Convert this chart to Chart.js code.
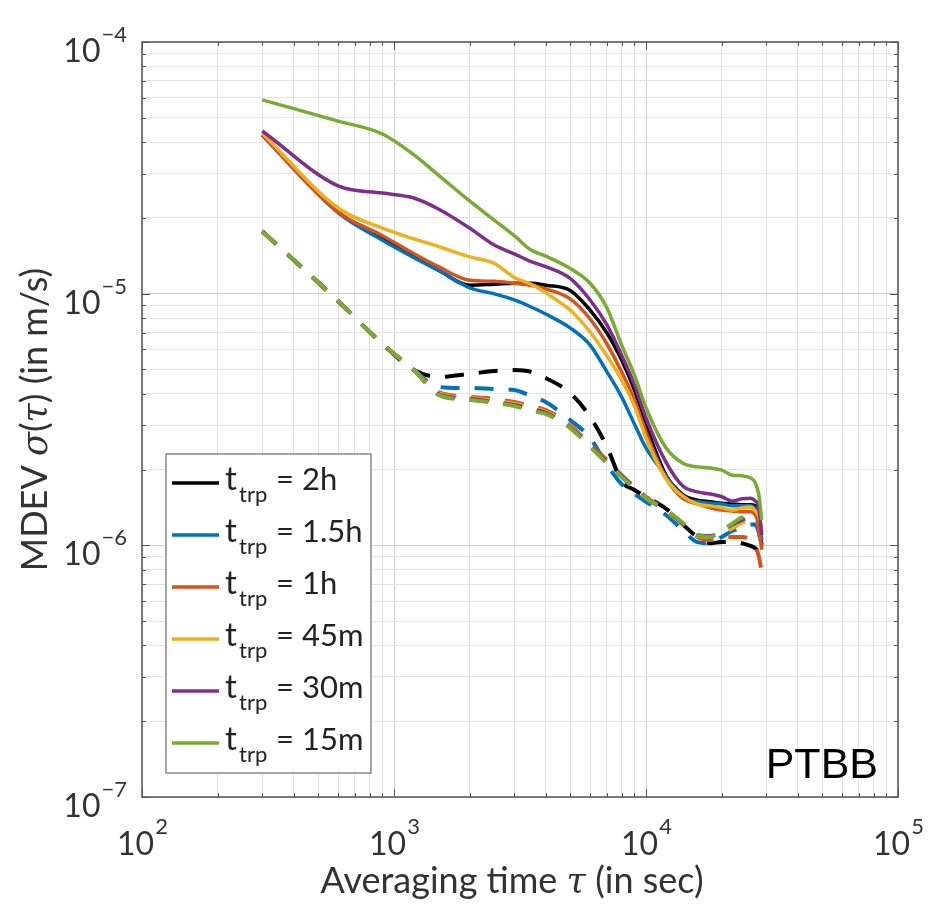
<!DOCTYPE html>
<html>
<head>
<meta charset="utf-8">
<script src="https://cdn.jsdelivr.net/npm/chart.js@4.4.1/dist/chart.umd.min.js"></script>
<style>
  html, body { margin:0; padding:0; background:#fff; }
  #wrap { width:941px; height:906px; }
</style>
</head>
<body>
<div id="wrap"><canvas id="mdev" width="941" height="906"></canvas></div>
<script>
// averaging time (s)
const tau = [300, 600, 900, 1200, 1500, 2000, 2500, 3000, 3500, 4000, 5000, 6000, 7000, 8000, 9000,
  10000, 12000, 14000, 16000, 18000, 20000, 22000, 24000, 26000, 27000, 28000, 28800];

// solid curves, MDEV (m/s)
const solid2h  = [4.27e-5, 2.11e-5, 1.66e-5, 1.40e-5, 1.24e-5, 1.08e-5, 1.09e-5, 1.10e-5, 1.10e-5, 1.08e-5, 1.03e-5, 8.61e-6, 6.98e-6, 5.45e-6, 4.14e-6, 3.01e-6, 1.90e-6, 1.59e-6, 1.51e-6, 1.49e-6, 1.47e-6, 1.46e-6, 1.45e-6, 1.45e-6, 1.44e-6, 1.32e-6, 1.00e-6];
const solid1h5 = [4.27e-5, 2.10e-5, 1.63e-5, 1.39e-5, 1.24e-5, 1.055e-5, 9.98e-6, 9.44e-6, 8.85e-6, 8.30e-6, 7.31e-6, 6.25e-6, 4.89e-6, 3.89e-6, 3.03e-6, 2.44e-6, 1.89e-6, 1.54e-6, 1.49e-6, 1.47e-6, 1.46e-6, 1.435e-6, 1.435e-6, 1.435e-6, 1.41e-6, 1.32e-6, 1.05e-6];
const solid1h  = [4.27e-5, 2.11e-5, 1.70e-5, 1.44e-5, 1.28e-5, 1.13e-5, 1.12e-5, 1.10e-5, 1.08e-5, 1.045e-5, 9.53e-6, 7.93e-6, 6.31e-6, 4.89e-6, 3.78e-6, 2.82e-6, 1.85e-6, 1.54e-6, 1.46e-6, 1.41e-6, 1.38e-6, 1.37e-6, 1.36e-6, 1.36e-6, 1.33e-6, 1.21e-6, 9.6e-7];
const solid45m = [4.35e-5, 2.19e-5, 1.82e-5, 1.65e-5, 1.54e-5, 1.40e-5, 1.32e-5, 1.16e-5, 1.09e-5, 1.007e-5, 8.61e-6, 7.04e-6, 5.65e-6, 4.54e-6, 3.58e-6, 2.67e-6, 1.84e-6, 1.57e-6, 1.46e-6, 1.435e-6, 1.41e-6, 1.38e-6, 1.41e-6, 1.42e-6, 1.38e-6, 1.31e-6, 1.17e-6];
const solid30m = [4.43e-5, 2.68e-5, 2.51e-5, 2.40e-5, 2.17e-5, 1.82e-5, 1.56e-5, 1.44e-5, 1.34e-5, 1.28e-5, 1.15e-5, 9.44e-6, 7.51e-6, 5.70e-6, 4.34e-6, 3.21e-6, 2.14e-6, 1.72e-6, 1.63e-6, 1.60e-6, 1.56e-6, 1.50e-6, 1.53e-6, 1.54e-6, 1.51e-6, 1.41e-6, 1.10e-6];
const solid15m = [5.89e-5, 4.85e-5, 4.31e-5, 3.56e-5, 2.96e-5, 2.33e-5, 1.96e-5, 1.70e-5, 1.49e-5, 1.41e-5, 1.26e-5, 1.10e-5, 8.77e-6, 6.25e-6, 4.75e-6, 3.52e-6, 2.44e-6, 2.12e-6, 2.05e-6, 2.03e-6, 1.99e-6, 1.90e-6, 1.89e-6, 1.85e-6, 1.79e-6, 1.60e-6, 1.26e-6];

// dashed curves
const dash2h  = [1.77e-5, 9.35e-6, 6.31e-6, 4.97e-6, 4.67e-6, 4.80e-6, 4.93e-6, 4.97e-6, 4.89e-6, 4.62e-6, 4.03e-6, 3.24e-6, 2.46e-6, 1.80e-6, 1.66e-6, 1.56e-6, 1.40e-6, 1.21e-6, 1.08e-6, 1.02e-6, 1.03e-6, 1.03e-6, 1.02e-6, 9.95e-7, 9.77e-7, 9.33e-7, 8.36e-7];
const dash1h5 = [1.77e-5, 9.35e-6, 6.31e-6, 4.97e-6, 4.26e-6, 4.22e-6, 4.18e-6, 4.14e-6, 3.92e-6, 3.71e-6, 3.15e-6, 2.67e-6, 2.09e-6, 1.75e-6, 1.60e-6, 1.49e-6, 1.32e-6, 1.15e-6, 1.03e-6, 1.02e-6, 1.08e-6, 1.14e-6, 1.17e-6, 1.21e-6, 1.21e-6, 1.13e-6, 9.77e-7];
const dash1h  = [1.77e-5, 9.35e-6, 6.31e-6, 4.97e-6, 4.07e-6, 3.89e-6, 3.82e-6, 3.71e-6, 3.58e-6, 3.45e-6, 3.01e-6, 2.51e-6, 2.18e-6, 1.90e-6, 1.71e-6, 1.56e-6, 1.38e-6, 1.21e-6, 1.08e-6, 1.05e-6, 1.07e-6, 1.08e-6, 1.08e-6, 1.05e-6, 1.00e-6, 9.08e-7, 7.83e-7];
const dash45m = [1.77e-5, 9.35e-6, 6.31e-6, 4.97e-6, 4.03e-6, 3.85e-6, 3.75e-6, 3.65e-6, 3.52e-6, 3.39e-6, 2.98e-6, 2.48e-6, 2.14e-6, 1.89e-6, 1.69e-6, 1.54e-6, 1.37e-6, 1.21e-6, 1.09e-6, 1.08e-6, 1.12e-6, 1.17e-6, 1.23e-6, 1.26e-6, 1.24e-6, 1.15e-6, 1.00e-6];
const dash30m = [1.77e-5, 9.35e-6, 6.31e-6, 4.97e-6, 3.99e-6, 3.82e-6, 3.71e-6, 3.61e-6, 3.48e-6, 3.36e-6, 2.95e-6, 2.48e-6, 2.14e-6, 1.89e-6, 1.69e-6, 1.54e-6, 1.38e-6, 1.22e-6, 1.10e-6, 1.09e-6, 1.14e-6, 1.21e-6, 1.26e-6, 1.30e-6, 1.26e-6, 1.15e-6, 9.77e-7];
const dash15m = [1.77e-5, 9.35e-6, 6.31e-6, 4.97e-6, 3.96e-6, 3.78e-6, 3.68e-6, 3.58e-6, 3.42e-6, 3.33e-6, 2.92e-6, 2.46e-6, 2.12e-6, 1.87e-6, 1.68e-6, 1.54e-6, 1.38e-6, 1.23e-6, 1.10e-6, 1.08e-6, 1.15e-6, 1.22e-6, 1.29e-6, 1.30e-6, 1.29e-6, 1.19e-6, 1.00e-6];

const seriesNames = ['2h', '1.5h', '1h', '45m', '30m', '15m'];
const seriesColors = ['#000000', '#0072BD', '#D95319', '#EDB120', '#7E2F8E', '#77AC30'];
const xTickExps = [2, 3, 4, 5];
const yTickExps = [-7, -6, -5, -4];

const solids = [solid2h, solid1h5, solid1h, solid45m, solid30m, solid15m];
const dashes = [dash2h, dash1h5, dash1h, dash45m, dash30m, dash15m];
const toPts = arr => tau.map((t, i) => ({ x: t, y: arr[i] }));

// all 1..9 x 10^n positions for grid lines
function logTicks(exps) {
  const out = [];
  for (let k = 0; k < exps.length; k++) {
    const base = Math.pow(10, exps[k]);
    if (k === exps.length - 1) { out.push(base); break; }
    for (let m = 1; m <= 9; m++) out.push(m * base);
  }
  return out;
}
const xGrid = logTicks(xTickExps);
const yGrid = logTicks(yTickExps);
const isMajor = v => v != null && Math.abs(Math.log10(v) - Math.round(Math.log10(v))) < 1e-9;

const datasets = [];
solids.forEach((arr, i) => datasets.push({
  label: 't_trp = ' + seriesNames[i], data: toPts(arr),
  borderColor: seriesColors[i], borderWidth: 3.5, order: 5 - i
}));
dashes.forEach((arr, i) => datasets.push({
  label: 'dashed ' + seriesNames[i], data: toPts(arr),
  borderColor: seriesColors[i], borderWidth: 4, borderDash: [19, 15], order: 11 - i
}));

const FONT = 'Lato, "Open Sans", sans-serif';

const decor = {
  id: 'decor',
  afterDatasetsDraw(chart) {
    const { ctx, chartArea: ca, scales: { x, y } } = chart;
    ctx.save();
    // box + inward ticks
    ctx.strokeStyle = '#555';
    ctx.lineWidth = 1.5;
    ctx.strokeRect(ca.left, ca.top, ca.right - ca.left, ca.bottom - ca.top);
    ctx.lineWidth = 1;
    xGrid.forEach(v => {
      const px = Math.round(x.getPixelForValue(v)) + 0.5, len = isMajor(v) ? 8 : 4;
      ctx.beginPath();
      ctx.moveTo(px, ca.bottom); ctx.lineTo(px, ca.bottom - len);
      ctx.moveTo(px, ca.top); ctx.lineTo(px, ca.top + len);
      ctx.stroke();
    });
    yGrid.forEach(v => {
      const py = Math.round(y.getPixelForValue(v)) + 0.5, len = isMajor(v) ? 8 : 4;
      ctx.beginPath();
      ctx.moveTo(ca.left, py); ctx.lineTo(ca.left + len, py);
      ctx.moveTo(ca.right, py); ctx.lineTo(ca.right - len, py);
      ctx.stroke();
    });

    // tick labels 10^n
    ctx.fillStyle = '#333';
    ctx.textBaseline = 'alphabetic';
    ctx.textAlign = 'left';
    const baseFont = '32px ' + FONT, expFont = '22px ' + FONT;
    xTickExps.forEach(e => {
      const px = x.getPixelForValue(Math.pow(10, e));
      const ex = String(e);
      ctx.font = baseFont; const wb = ctx.measureText('10').width;
      ctx.font = expFont; const we = ctx.measureText(ex).width;
      const sx = px - (wb + we) / 2;
      ctx.font = baseFont; ctx.fillText('10', sx, ca.bottom + 58);
      ctx.font = expFont; ctx.fillText(ex, sx + wb + 1, ca.bottom + 37);
    });
    yTickExps.forEach(e => {
      const py = y.getPixelForValue(Math.pow(10, e));
      const ex = '\u2212' + String(-e);
      ctx.font = baseFont; const wb = ctx.measureText('10').width;
      ctx.font = expFont; const we = ctx.measureText(ex).width;
      const sx = ca.left - 16 - (wb + we);
      ctx.font = baseFont; ctx.fillText('10', sx, py + 20);
      ctx.font = expFont; ctx.fillText(ex, sx + wb + 1, py);
    });

    // axis titles
    const titleFont = '36px ' + FONT, titleIt = 'italic 35px "DejaVu Serif", serif';
    const drawParts = (parts, cx, cy) => {
      let w = 0;
      parts.forEach(p => { ctx.font = p[1]; w += ctx.measureText(p[0]).width; });
      let sx = cx - w / 2;
      parts.forEach(p => { ctx.font = p[1]; ctx.fillText(p[0], sx, cy); sx += ctx.measureText(p[0]).width; });
    };
    drawParts([['Averaging time ', titleFont], ['\u03C4', titleIt], [' (in sec)', titleFont]],
      (ca.left + ca.right) / 2 - 8, ca.bottom + 96);
    ctx.save();
    ctx.translate(47, (ca.top + ca.bottom) / 2);
    ctx.rotate(-Math.PI / 2);
    drawParts([['MDEV ', titleFont], ['\u03C3', titleIt], ['(', titleFont], ['\u03C4', titleIt], [') (in m/s)', titleFont]], 0, 0);
    ctx.restore();

    // legend
    const lx = ca.left + 24, ly = ca.top + 412, lw = 205, lh = 319;
    ctx.fillStyle = '#fff';
    ctx.fillRect(lx, ly, lw, lh);
    ctx.strokeStyle = '#888';
    ctx.lineWidth = 1.5;
    ctx.strokeRect(lx, ly, lw, lh);
    seriesNames.forEach((name, i) => {
      const cy = ly + 29 + i * 52;
      ctx.strokeStyle = seriesColors[i];
      ctx.lineWidth = 3.5;
      ctx.beginPath(); ctx.moveTo(lx + 6, cy); ctx.lineTo(lx + 53, cy); ctx.stroke();
      ctx.fillStyle = '#222';
      ctx.font = '33px ' + FONT;
      ctx.fillText('t', lx + 59, cy + 7);
      ctx.font = '22px ' + FONT;
      ctx.fillText('trp', lx + 73, cy + 19);
      ctx.font = '31px ' + FONT;
      ctx.fillText('= ' + name, lx + 110, cy + 7);
    });

    // PTBB tag
    ctx.fillStyle = '#000';
    ctx.font = '43px "Liberation Sans", Arial, sans-serif';
    ctx.textAlign = 'right';
    ctx.fillText('PTBB', ca.right - 20, ca.bottom - 19);
    ctx.restore();
  }
};

new Chart(document.getElementById('mdev'), {
  type: 'line',
  data: { datasets },
  options: {
    responsive: false,
    animation: false,
    layout: { padding: { left: 142, right: 43, top: 42, bottom: 109 } },
    elements: {
      point: { radius: 0, hoverRadius: 0 },
      line: { tension: 0, cubicInterpolationMode: 'monotone', borderJoinStyle: 'round', borderCapStyle: 'butt', fill: false }
    },
    plugins: { legend: { display: false }, tooltip: { enabled: false } },
    scales: {
      x: {
        type: 'logarithmic', min: 100, max: 100000,
        afterBuildTicks: s => { s.ticks = xGrid.map(v => ({ value: v })); },
        ticks: { display: false },
        grid: { drawTicks: false, lineWidth: 1, color: c => isMajor(c.tick && c.tick.value) ? '#d0d0d0' : '#e4e4e4' },
        border: { display: false }
      },
      y: {
        type: 'logarithmic', min: 1e-7, max: 1e-4,
        afterBuildTicks: s => { s.ticks = yGrid.map(v => ({ value: v })); },
        ticks: { display: false },
        grid: { drawTicks: false, lineWidth: 1, color: c => isMajor(c.tick && c.tick.value) ? '#d0d0d0' : '#e4e4e4' },
        border: { display: false }
      }
    }
  },
  plugins: [decor]
});
</script>
</body>
</html>
